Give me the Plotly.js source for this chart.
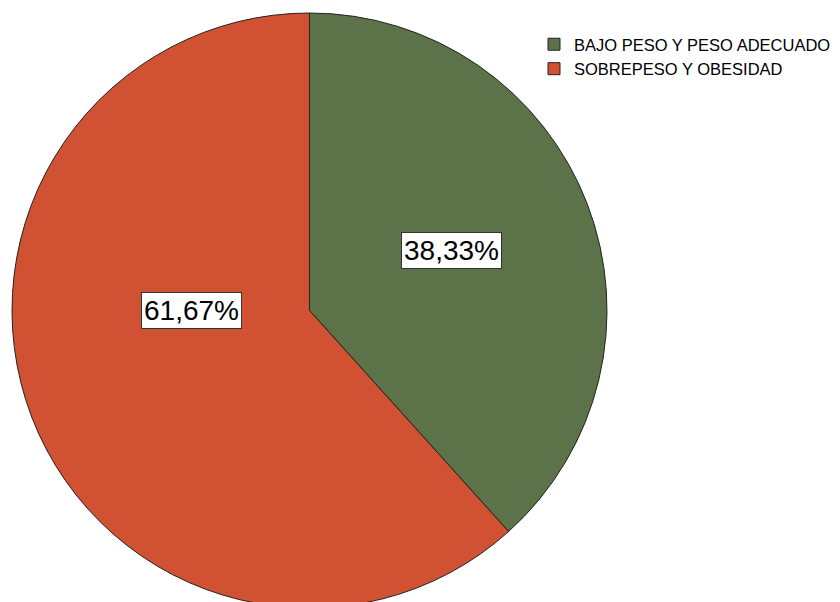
<!DOCTYPE html>
<html>
<head>
<meta charset="utf-8">
<script src="https://cdn.plot.ly/plotly-3.0.1.min.js"></script>
<style>
html,body{margin:0;padding:0;overflow:hidden;background:#fff;}
#chart{width:880px;height:620px;}
</style>
</head>
<body>
<div id="chart"></div>
<script>
const categories = ["BAJO PESO Y PESO ADECUADO", "SOBREPESO Y OBESIDAD"];
const percentages = [38.33, 61.67];
const sliceColors = ["#5c7249", "#d05232"];

const fmt = v => v.toFixed(2).replace(".", ",") + "%";

const W = 880, H = 620;
const dom = {x: [12 / W, 607 / W], y: [1 - 608 / H, 1 - 13 / H]};

// label placement: offset from slice mid-angle (deg) and radius fraction
const labelPlace = [{r: 0.519, shift: -1.7}, {r: 0.398, shift: 21}];

const cx = (dom.x[0] + dom.x[1]) / 2 * W;
const cy = (1 - (dom.y[0] + dom.y[1]) / 2) * H;
const R = 297.5;
const total = percentages.reduce((a, b) => a + b, 0);
let acc = 0;
const annotations = percentages.map((v, i) => {
  const mid = (acc + v / 2) / total * 360 + labelPlace[i].shift;
  acc += v;
  const a = mid * Math.PI / 180;
  const px = cx + labelPlace[i].r * R * Math.sin(a);
  const py = cy - labelPlace[i].r * R * Math.cos(a);
  return {
    x: px / W, y: 1 - py / H, xref: "paper", yref: "paper",
    xanchor: "center", yanchor: "middle", showarrow: false,
    text: fmt(v),
    font: {family: "Liberation Sans, Arial, sans-serif", size: 28, color: "#000"},
    bgcolor: "#ffffff", bordercolor: "#333333", borderwidth: 1, borderpad: 2
  };
});

const trace = {
  type: "pie",
  labels: categories,
  values: percentages,
  sort: false,
  direction: "clockwise",
  rotation: 0,
  textinfo: "none",
  hoverinfo: "label+percent",
  marker: {colors: sliceColors, line: {color: "#222222", width: 1}},
  domain: dom
};

const layout = {
  width: W, height: H,
  margin: {l: 0, r: 0, t: 0, b: 0},
  paper_bgcolor: "#ffffff",
  showlegend: true,
  legend: {
    x: 534 / W, y: 1 - 27 / H, xanchor: "left", yanchor: "top",
    font: {family: "Liberation Sans, Arial, sans-serif", size: 16.5, color: "#000"},
    itemwidth: 30, tracegroupgap: 0, bgcolor: "rgba(0,0,0,0)"
  },
  annotations: annotations
};

Plotly.newPlot("chart", [trace], layout, {displayModeBar: false, staticPlot: true});
</script>
</body>
</html>
